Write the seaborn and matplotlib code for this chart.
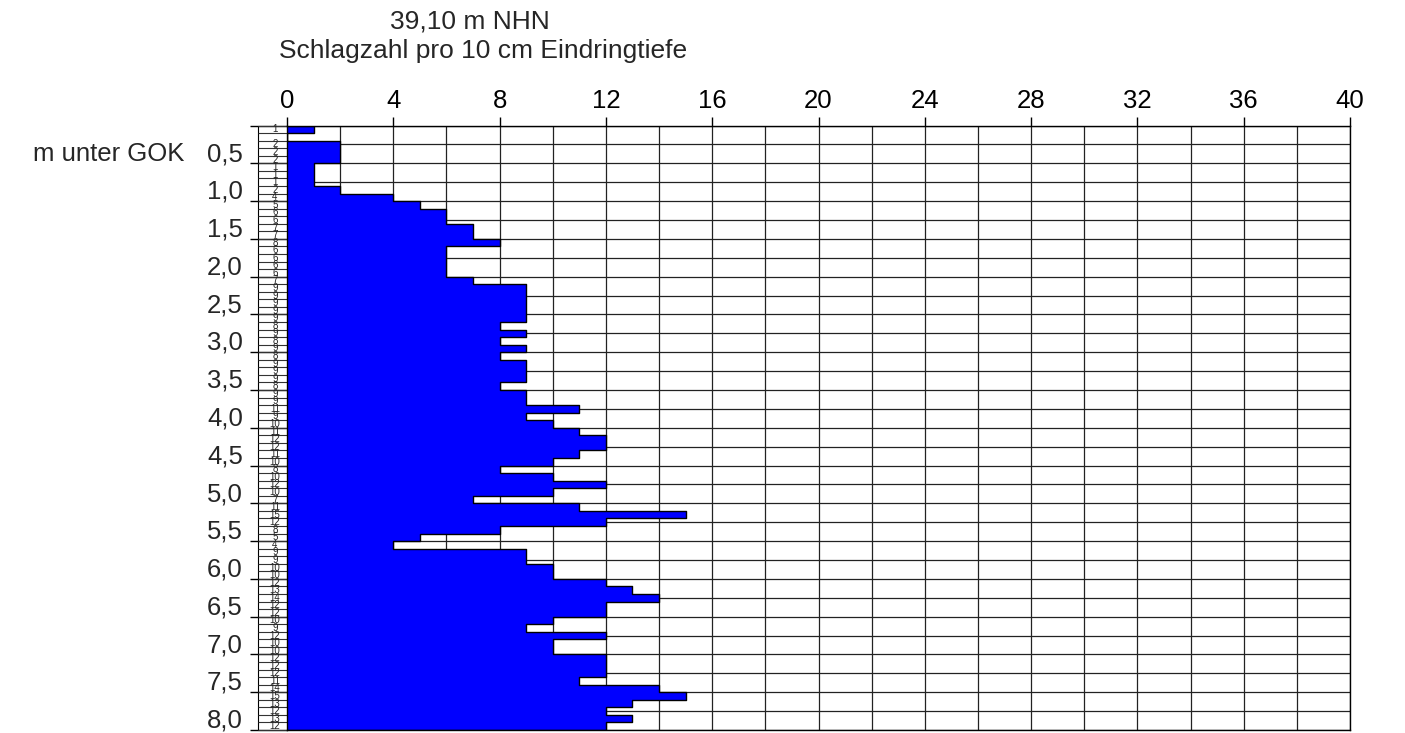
import numpy as np
import matplotlib
matplotlib.use("Agg")
import matplotlib.pyplot as plt
import seaborn as sns

# Schlagzahl je 10 cm Eindringtiefe, 0,0 m bis 8,0 m unter GOK (None = kein Wert)
schlagzahl = [1, None, 2, 2, 2, 1, 1, 1, 2, 4,
              5, 6, 6, 7, 7, 8, 6, 6, 6, 6,
              7, 9, 9, 9, 9, 9, 8, 9, 8, 9,
              8, 9, 9, 9, 8, 9, 9, 11, 9, 10,
              11, 12, 12, 11, 10, 8, 10, 12, 10, 7,
              11, 15, 12, 8, 5, 4, 9, 9, 10, 10,
              12, 13, 14, 12, 12, 10, 9, 12, 10, 10,
              12, 12, 12, 11, 14, 15, 13, 12, 13, 12]
schritt = 0.1  # m je Messintervall

tiefen_ticks = [0.5, 1.0, 1.5, 2.0, 2.5, 3.0, 3.5, 4.0,
                4.5, 5.0, 5.5, 6.0, 6.5, 7.0, 7.5, 8.0]
tiefen_labels = ["0,5", "1,0", "1,5", "2,0", "2,5", "3,0", "3,5", "4,0",
                 "4,5", "5,0", "5,5", "6,0", "6,5", "7,0", "7,5", "8,0"]
x_ticks = [0, 4, 8, 12, 16, 20, 24, 28, 32, 36, 40]
x_labels = [str(t) for t in x_ticks]

titel_hoehe = "39,10 m NHN"
titel_achse = "Schlagzahl pro 10 cm Eindringtiefe"
tiefen_titel = "m unter GOK"

sns.set_theme(style="white")
plt.rcParams["font.family"] = ["Liberation Sans", "DejaVu Sans"]

FS = 18.5
W, H = 1405, 733
fig = plt.figure(figsize=(W / 100, H / 100), dpi=100)
x0, x1 = 287, 1350
y0, y1 = 125.6, 730
ax = fig.add_axes([x0 / W, 1 - y1 / H, (x1 - x0) / W, (y1 - y0) / H])

n = len(schlagzahl)
werte = np.array([0 if v is None else v for v in schlagzahl], dtype=float)
oben = np.arange(n) * schritt
unten = oben + schritt
t_max = n * schritt

# Stufenprofil der Sondierkurve
prof_x = np.concatenate([[0.0], np.repeat(werte, 2), [0.0]])
prof_y = np.concatenate([[0.0], np.column_stack([oben, unten]).ravel(), [t_max]])

ax.fill_betweenx(prof_y, 0, prof_x, color="#0000ff", linewidth=0, zorder=2)
sns.lineplot(x=prof_x, y=prof_y, sort=False, estimator=None, color="black",
             linewidth=1.0, ax=ax, zorder=3)

ax.set_xlim(0, 40)
ax.set_ylim(t_max, 0)

# Achsen und Raster
ax.xaxis.tick_top()
ax.set_xticks(x_ticks)
ax.set_xticklabels(x_labels, fontsize=FS)
ax.set_xticks(np.arange(0, 41, 2), minor=True)
ax.tick_params(axis="x", which="major", direction="out", length=6.5, width=1,
               pad=2.5, colors="black", top=True, bottom=False)
ax.tick_params(axis="x", which="minor", length=0)

ax.set_yticks(np.arange(0, t_max + 0.001, 0.5))
ax.set_yticklabels([])
ax.set_yticks(np.arange(0, t_max + 0.001, 0.25), minor=True)
ax.tick_params(axis="y", which="major", direction="out", length=27, width=1,
               colors="black", left=True)
ax.tick_params(axis="y", which="minor", length=0)

ax.grid(True, which="both", color="#222222", linewidth=0.9, zorder=1)
ax.set_axisbelow(True)
for s in ax.spines.values():
    s.set_color("black")
    s.set_linewidth(1.0)
    s.set_zorder(4)
ax.set_xlabel("")
ax.set_ylabel("")

# Spalte mit den Einzelwerten links der Achse
einheit = (x1 - x0) / 40.0
spalte_links = (258 - x0) / einheit
ax.vlines(spalte_links, 0, t_max, color="black", linewidth=0.8, clip_on=False)
ax.hlines(np.concatenate([oben, [t_max]]), spalte_links, 0, color="#333333",
          linewidth=0.8, clip_on=False)
spalte_mitte = (275 - x0) / einheit
for v, o in zip(schlagzahl, oben):
    if v is None:
        continue
    ax.text(spalte_mitte, o + schritt / 2, str(v), fontsize=7, ha="center",
            va="center", clip_on=False)

# Tiefenbeschriftung
label_x = (243 - x0) / einheit
for t, lab in zip(tiefen_ticks, tiefen_labels):
    ax.text(label_x, t - 0.03, lab, fontsize=FS, ha="right", va="baseline",
            clip_on=False)
ax.text((184 - x0) / einheit, 0.5 - 0.03, tiefen_titel, fontsize=FS,
        ha="right", va="baseline", clip_on=False)

fig.text(390 / W, 1 - 21 / H, titel_hoehe, fontsize=19, ha="left", va="center")
fig.text(279 / W, 1 - 51 / H, titel_achse, fontsize=19, ha="left", va="center")

fig.savefig("out.png", dpi=100)
